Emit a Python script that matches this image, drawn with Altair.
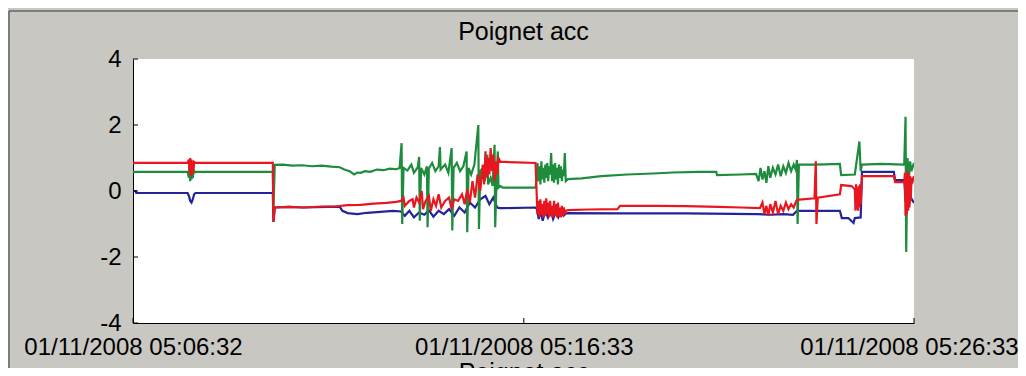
import altair as alt
import pandas as pd

# ---- axis ticks / labels ----
x_tick_seconds = [0, 601, 1201]
x_tick_labels = ["01/11/2008 05:06:32", "01/11/2008 05:16:33", "01/11/2008 05:26:33"]
y_ticks = [-4, -2, 0, 2, 4]
title_text = "Poignet acc"

# ---- series (seconds since 05:06:32, value) ----
blue_t = [0, 4, 5, 84, 86, 88, 90, 92, 94, 96, 215, 216, 218, 240, 262, 300, 318, 322, 330, 345, 360, 380, 400, 412,
          418, 425, 432, 440, 448, 455, 462, 470, 478, 486, 494, 502, 510, 518, 526, 534, 542, 548, 554, 560, 564, 569, 619,
          621, 624, 627, 630, 634, 638, 642, 646, 650, 654, 658, 662, 666, 669, 750, 850, 960, 980, 1000, 1015, 1021, 1087,
          1090, 1100, 1108, 1110, 1119, 1121, 1170, 1172, 1186, 1188, 1192, 1196, 1201]
blue_v = [0.0, 0.0, -0.06, -0.06, -0.15, -0.3, -0.35, -0.25, -0.1, -0.06, -0.06, -0.94, -0.5, -0.48, -0.5, -0.48, -0.48, -0.6, -0.67, -0.7, -0.66, -0.63, -0.6, -0.62,
          -0.75, -0.6, -0.8, -0.65, -0.72, -0.58, -0.78, -0.6, -0.7, -0.55, -0.75, -0.5, -0.65, -0.35, -0.5, -0.25, -0.15, -0.4, -0.2, -0.5, -0.52, -0.52, -0.5,
          -0.55, -0.85, -0.6, -0.9, -0.6, -0.8, -0.55, -0.85, -0.65, -0.8, -0.6, -0.75, -0.68, -0.67, -0.68, -0.68, -0.7, -0.72, -0.7, -0.72, -0.6, -0.6,
          -0.82, -0.82, -0.97, -0.82, -0.8, 0.58, 0.58, 0.33, 0.33, -0.3, -0.5, -0.2, -0.36]

green_t_a = [0, 84, 86, 87, 88, 89, 90, 91, 92, 93, 94, 96, 215, 216, 218, 230, 245, 260, 275, 290, 305, 318, 325, 333, 340, 345, 350, 357, 365, 375, 385, 395, 405, 410,
             413, 414, 416, 422, 428, 432, 438, 440, 441, 443, 448, 452, 453, 455, 460, 465, 470, 472, 473, 480, 485, 490, 491, 493, 498, 503, 508, 513, 514, 516, 520, 525,
             531, 532, 534, 538, 541, 545, 546, 550, 553, 556, 557, 559, 561, 562, 565, 569, 600, 619]
green_v_a = [0.58, 0.58, 0.4, 0.8, 0.3, 0.75, 0.35, 0.7, 0.4, 0.65, 0.55, 0.58, 0.58, -0.5, 0.79, 0.8, 0.77, 0.78, 0.75, 0.77, 0.74, 0.72, 0.65, 0.6, 0.5, 0.56, 0.55, 0.6, 0.58, 0.65, 0.63, 0.68, 0.66, 0.7,
             1.45, -1.0, 0.7, 0.62, 0.8, 0.55, 0.72, 1.03, -0.9, 0.7, 0.5, 0.75, -1.1, 0.68, 0.85, 0.6, 0.75, 1.33, 0.65, 0.8, 0.55, 1.3, -1.2, 0.7, 0.85, 0.6, 0.75, 1.2, -1.25, 0.7, 0.5, 0.8,
             2.0, -1.15, 0.6, 0.7, 0.3, 1.1, 0.2, 0.4, 0.15, 1.4, -1.1, 0.3, 1.2, 0.1, 0.15, 0.1, 0.1, 0.1]
blob_t = [621, 622, 623.5, 625, 626.5, 628, 629.5, 631, 632.5, 634, 635.5, 637, 638.5, 640, 641.5, 643, 644.5, 646, 647.5, 649,
          650.5, 652, 653.5, 655, 656.5, 658, 659.5, 661, 662.5, 664, 665.5]
green_v_blob = [0.4, 0.85, 0.3, 0.75, 0.2, 0.9, 0.35, 0.7, 0.25, 0.8, 0.4, 0.85, 0.3, 0.75, 0.5, 1.15, 0.3, 0.8, 0.25, 0.85,
                0.35, 0.7, 0.2, 0.8, 0.4, 0.75, 0.3, 0.65, 0.45, 1.15, 0.3]
green_t_b = [669, 690, 720, 760, 800, 830, 870, 897, 898, 935, 958,
             962, 965, 968, 971, 974, 977, 980, 984, 988, 992, 996, 1000, 1004, 1008, 1012, 1016, 1019, 1021, 1022, 1024, 1050, 1087, 1089, 1110, 1117, 1119, 1121,
             1150, 1186, 1188, 1189, 1191, 1193, 1195, 1197, 1201]
green_v_b = [0.36, 0.38, 0.45, 0.5, 0.53, 0.56, 0.58, 0.58, 0.48, 0.5, 0.52,
             0.3, 0.7, 0.35, 0.6, 0.25, 0.75, 0.4, 0.7, 0.5, 0.8, 0.45, 0.75, 0.55, 0.85, 0.6, 0.8, 0.65, 0.94, -1.0, 0.8, 0.8, 0.82, 0.48, 0.5, 1.5, 0.6, 0.8,
             0.82, 0.8, 2.25, -1.85, 1.0, 0.3, 0.9, 0.6, 0.85]

red_t_a = [0, 55, 84, 86, 87, 88, 89, 90, 91, 92, 93, 94, 96, 215, 216, 218, 240, 262, 290, 310, 330, 350, 370, 390, 405, 412,
           416, 418, 425, 430, 432, 436, 440, 444, 446, 450, 455, 458, 462, 466, 470, 474, 480, 486, 490, 494, 500, 506, 510, 514, 518, 522, 526, 530, 534,
           538, 540, 542, 544, 546, 548, 550, 552, 554, 556, 558, 560, 562, 565, 569, 590, 619]
red_v_a = [0.85, 0.85, 0.86, 0.95, 0.55, 1.0, 0.45, 0.95, 0.5, 0.9, 0.6, 0.88, 0.85, 0.85, -0.94, -0.5, -0.48, -0.5, -0.47, -0.47, -0.43, -0.42, -0.38, -0.36, -0.33, -0.3,
           -0.2, -0.45, -0.3, -0.25, -0.5, -0.2, -0.35, 0.0, -0.55, -0.3, -0.15, -0.6, -0.25, -0.45, -0.1, -0.5, -0.3, -0.2, -0.55, -0.25, -0.3, -0.1, -0.4, 0.05, -0.35, 0.3, -0.2, 0.5, 0.0,
           0.8, 0.2, 1.2, 0.4, 1.0, 0.5, 1.3, 0.6, 1.1, 0.3, 0.9, 0.5, 1.0, 0.88, 0.88, 0.87, 0.85]
red_v_blob = [-0.2, -0.7, -0.3, -0.78, -0.25, -0.72, -0.4, -0.8, -0.3, -0.75, -0.22, -0.7, -0.35, -0.8, -0.3, -0.76, -0.45, -0.8, -0.3, -0.72,
              -0.4, -0.8, -0.35, -0.78, -0.5, -0.8, -0.45, -0.75, -0.5, -0.7, -0.6]
red_t_b = [669, 700, 745, 749, 800, 850, 900, 935, 964,
           968, 971, 974, 977, 980, 984, 988, 992, 996, 1000, 1004, 1008, 1012, 1016, 1019, 1021, 1048, 1050, 1051, 1053, 1087, 1089, 1105, 1110,
           1111, 1112, 1113, 1114, 1115, 1116, 1117, 1118, 1119, 1121, 1170, 1172, 1186,
           1187, 1188, 1189, 1190, 1191, 1192, 1193, 1194, 1195, 1196, 1197, 1199, 1201]
red_v_b = [-0.58, -0.56, -0.55, -0.45, -0.45, -0.46, -0.48, -0.5, -0.52,
           -0.35, -0.7, -0.45, -0.75, -0.4, -0.65, -0.3, -0.7, -0.45, -0.6, -0.35, -0.55, -0.4, -0.5, -0.35, -0.27, -0.22, 0.9, -1.0, -0.2, -0.1, 0.18, 0.15, 0.05,
           -0.6, 0.2, -0.55, 0.1, -0.6, 0.15, -0.5, 0.2, -0.4, 0.45, 0.45, 0.27, 0.27,
           0.55, -0.75, 0.5, -0.7, 0.6, -0.6, 0.55, -0.5, 0.45, -0.3, 0.4, 0.3, 0.45]

green_t = green_t_a + blob_t + green_t_b
green_v = green_v_a + green_v_blob + green_v_b
red_t = red_t_a + blob_t + red_t_b
red_v = red_v_a + red_v_blob + red_v_b

series_names = ["blue", "green", "red"]
series_colors = ["#24249a", "#1e8c3c", "#e8171f"]

df = pd.concat([
    pd.DataFrame({"t": blue_t, "v": blue_v, "s": "blue"}),
    pd.DataFrame({"t": green_t, "v": green_v, "s": "green"}),
    pd.DataFrame({"t": red_t, "v": red_v, "s": "red"}),
], ignore_index=True)

W, H = 781, 264
FONT = "Liberation Sans"

label_expr = " : ".join(
    f"datum.value == {s} ? '{l}'" for s, l in zip(x_tick_seconds[:-1], x_tick_labels[:-1])
) + f" : '{x_tick_labels[-1]}'"

x_scale = alt.Scale(domain=[0, 1201], nice=False, zero=False)
y_scale = alt.Scale(domain=[-4, 4], nice=False, zero=False)

lines = alt.Chart(df).mark_line(strokeWidth=2.2, clip=True).encode(
    x=alt.X("t:Q", scale=x_scale,
            axis=alt.Axis(values=x_tick_seconds, labelExpr=label_expr, title=title_text,
                          ticks=False, grid=False, domainColor="black", domainWidth=1,
                          labelFont=FONT, labelFontSize=24, labelColor="black", labelLimit=0,
                          labelPadding=12, labelOverlap=False, labelFlush=False, labelBound=False,
                          labelOffset=alt.condition(f"datum.value == {x_tick_seconds[-1]}", alt.value(-5), alt.value(0)),
                          titleFont=FONT, titleFontSize=25, titleFontWeight="normal",
                          titleColor="black", titlePadding=1)),
    y=alt.Y("v:Q", scale=y_scale,
            axis=alt.Axis(values=y_ticks, title=None, ticks=False, grid=False,
                          domainColor="black", domainWidth=1, labelExpr="datum.value + ''",
                          labelFont=FONT, labelFontSize=24, labelColor="black",
                          labelPadding=12, labelOverlap=False, labelFlush=False, labelBound=False)),
    color=alt.Color("s:N", scale=alt.Scale(domain=series_names, range=series_colors), legend=None),
)

ytick_df = pd.DataFrame({"v": y_ticks})
xtick_df = pd.DataFrame({"t": x_tick_seconds})

yticks = alt.Chart(ytick_df).mark_rule(color="black", strokeWidth=1).encode(
    y=alt.Y("v:Q", scale=y_scale), x=alt.value(0), x2=alt.value(5))
xticks = alt.Chart(xtick_df).mark_rule(color="black", strokeWidth=1).encode(
    x=alt.X("t:Q", scale=x_scale), y=alt.value(H), y2=alt.value(H - 5))

frame_df = pd.DataFrame({"k": [0]})
frame_top = alt.Chart(frame_df).mark_rule(color="#333333", strokeWidth=1).encode(
    x=alt.value(-124), x2=alt.value(W + 110), y=alt.value(-48))
frame_left = alt.Chart(frame_df).mark_rule(color="#333333", strokeWidth=1).encode(
    x=alt.value(-124), y=alt.value(-48), y2=alt.value(H + 60))

title_mark = alt.Chart(frame_df).mark_text(
    text=title_text, font=FONT, fontSize=25, color="black", align="center", baseline="alphabetic"
).encode(x=alt.value(W / 2), y=alt.value(-19))

chart = alt.layer(frame_top, frame_left, lines, yticks, xticks, title_mark).properties(
    width=W, height=H,
    background="#c9c7c1",
    autosize=alt.AutoSizeParams(type="none"),
    padding={"left": 125, "top": 51, "right": 104, "bottom": 45},
).configure_view(fill="white", stroke=None)

chart.save("out.html", embed_options={"renderer": "svg", "actions": False})
